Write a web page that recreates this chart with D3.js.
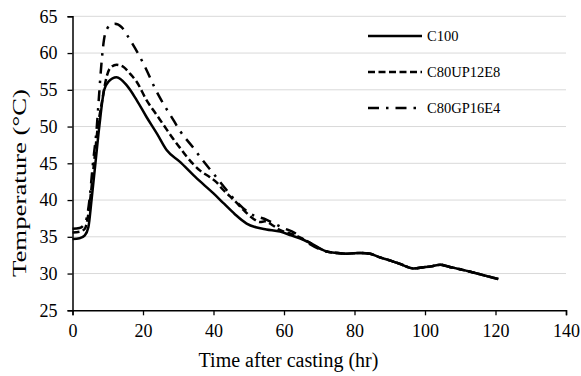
<!DOCTYPE html>
<html>
<head>
<meta charset="utf-8">
<script src="https://cdn.jsdelivr.net/npm/d3@7"></script>
<style>
  body { margin: 0; background: #fff; }
  svg { display: block; font-family: "Liberation Serif", "Times New Roman", serif; }
</style>
</head>
<body>
<svg id="chart"></svg>
<script>
// Series (hours after casting, temperature in °C)
const c100Hours = [0, 2, 3.5, 4.5, 5.4, 6.5, 7.6, 9, 10.2, 12.5, 15.4, 18.2, 21, 24, 26.7, 30.5, 34.3, 37, 40, 43, 46, 49.4, 52, 55, 58.9, 62, 65.5, 68];
const c100Temps = [34.7, 34.8, 35.2, 36.3, 40, 45, 50, 55, 56.1, 56.7, 55.6, 53.6, 51.3, 49.0, 46.8, 45.2, 43.4, 42.2, 40.9, 39.5, 38.1, 36.8, 36.3, 36.0, 35.7, 35.2, 34.6, 34.0];

const upHours = [0, 2, 3.5, 4.3, 5.0, 6.1, 7.2, 8.3, 9.7, 10.6, 12.5, 14.5, 16.3, 18.2, 21, 24, 26, 28.6, 30.5, 32.4, 36.2, 39, 40.9, 42.7, 44.7, 46.6, 48, 51.2, 53.2, 54.6, 57, 58.9, 62, 65.5, 68];
const upTemps = [35.6, 35.7, 36.1, 37.5, 40, 45, 50, 53.2, 56.8, 57.9, 58.4, 58.1, 57.2, 56.1, 53.6, 51.5, 50.1, 48.3, 47.1, 45.9, 44.0, 43.1, 42.4, 41.4, 40.5, 39.6, 38.9, 37.5, 37.0, 37.1, 36.5, 35.9, 35.4, 34.7, 34.0];

const gpHours = [0, 2, 3, 4, 4.8, 5.8, 6.9, 7.5, 8.2, 9.2, 10.5, 12, 14, 15.8, 19.1, 20.9, 23.4, 25.3, 28.6, 30.5, 34.3, 37.1, 40, 43.3, 46.1, 50.3, 55.1, 59.8, 63.1, 66];
const gpTemps = [36.1, 36.2, 36.5, 37.5, 40, 45, 50, 54, 58.5, 62.5, 63.7, 64, 63.5, 62.2, 59.5, 57.8, 55.2, 53.5, 50.9, 49.4, 47.1, 45.3, 43.6, 41.6, 40, 38.2, 37.3, 36.2, 35.5, 34.4];

// common tail where the three curves coincide
const tailHours = [72.1, 75, 77.8, 81.6, 84.4, 87.2, 90, 93, 96.7, 99.5, 102, 104.3, 107, 109, 112, 115.6, 118, 120.8];
const tailTemps = [33.0, 32.8, 32.7, 32.8, 32.7, 32.2, 31.8, 31.3, 30.7, 30.85, 31.0, 31.2, 30.9, 30.7, 30.35, 29.9, 29.6, 29.25];

const seriesNames = ["C100", "C80UP12E8", "C80GP16E4"];
const xTicks = [0, 20, 40, 60, 80, 100, 120, 140];
const yTicks = [25, 30, 35, 40, 45, 50, 55, 60, 65];

const toPoints = (hrs, temps) => hrs.map((h, i) => ({ hr: h, t: temps[i] }))
  .concat(tailHours.map((h, i) => ({ hr: h, t: tailTemps[i] })));

const series = [
  { name: seriesNames[0], values: toPoints(c100Hours, c100Temps), dash: null },
  { name: seriesNames[1], values: toPoints(upHours, upTemps), dash: "7,3.5" },
  { name: seriesNames[2], values: toPoints(gpHours, gpTemps), dash: "11,7,2.5,7" }
];

// Chart size
const W = 581, H = 376;
const margin = { top: 16.3, right: 15, bottom: 65.7, left: 72.5 };
const width = W - margin.left - margin.right;
const height = H - margin.top - margin.bottom;

const svg = d3.select("#chart")
  .attr("width", W)
  .attr("height", H);

const g = svg.append("g")
  .attr("transform", `translate(${margin.left},${margin.top})`);

// Scales
const x = d3.scaleLinear().domain([0, 140]).range([0, width]);
const y = d3.scaleLinear().domain([25, 65]).range([height, 0]);

// Gridlines
g.append("g")
  .selectAll("line")
  .data(yTicks.filter(d => d > 25))
  .enter()
  .append("line")
  .attr("x1", 0)
  .attr("x2", width)
  .attr("y1", d => y(d))
  .attr("y2", d => y(d))
  .attr("stroke", "#d9d9d9")
  .attr("stroke-width", 1);

// Axes
const xAxis = g.append("g")
  .attr("transform", `translate(0,${height})`)
  .call(d3.axisBottom(x).tickValues(xTicks).tickSizeOuter(0).tickSize(5).tickPadding(9));

const yAxis = g.append("g")
  .call(d3.axisLeft(y).tickValues(yTicks).tickSizeOuter(0).tickSize(5).tickPadding(10));

[xAxis, yAxis].forEach(a => {
  a.attr("font-family", null);
  a.select(".domain").attr("stroke", "#000").attr("stroke-width", 1.5);
  a.selectAll(".tick line").attr("stroke", "#000").attr("stroke-width", 1.3);
  a.selectAll(".tick text")
    .attr("fill", "#000")
    .style("font-family", "'Liberation Serif', 'Times New Roman', serif")
    .style("font-size", "18px");
});

// Lines
const line = d3.line()
  .x(d => x(d.hr))
  .y(d => y(d.t))
  .curve(d3.curveMonotoneX);

g.selectAll(".series")
  .data(series)
  .enter()
  .append("path")
  .attr("class", "series")
  .attr("fill", "none")
  .attr("stroke", "#000")
  .attr("stroke-width", 2.5)
  .attr("stroke-dasharray", d => d.dash)
  .attr("d", d => line(d.values));

// Legend
const legend = svg.append("g")
  .selectAll("g")
  .data(series)
  .enter()
  .append("g")
  .attr("transform", (d, i) => `translate(368,${36 + i * 36})`);

legend.append("line")
  .attr("x1", 0)
  .attr("x2", 54)
  .attr("stroke", "#000")
  .attr("stroke-width", 2.5)
  .attr("stroke-dasharray", d => d.dash);

legend.append("text")
  .attr("x", 59)
  .attr("dy", "0.35em")
  .style("font-size", "14.5px")
  .text(d => d.name);

// Axis titles
svg.append("text")
  .attr("x", 288.5)
  .attr("y", 367)
  .attr("text-anchor", "middle")
  .style("font-size", "20px")
  .text("Time after casting (hr)");

svg.append("text")
  .attr("transform", "translate(26,183) rotate(-90)")
  .attr("text-anchor", "middle")
  .attr("textLength", 188)
  .attr("lengthAdjust", "spacingAndGlyphs")
  .style("font-size", "19px")
  .text("Temperature (°C)");
</script>
</body>
</html>
